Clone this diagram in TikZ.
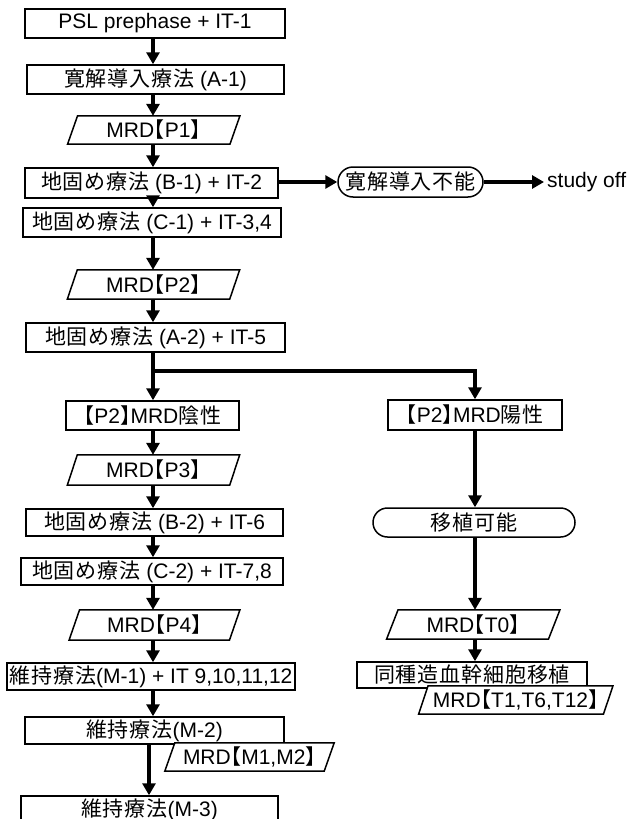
\documentclass[tikz,border=0pt]{standalone}
\usepackage{fontspec}
\setmainfont{Liberation Sans}
\newfontfamily\cjkf[LetterSpace=4]{Noto Sans CJK JP}
\newfontfamily\cjkh[RawFeature=+halt]{Noto Sans CJK JP}
\newcommand\J[1]{{\cjkf #1}}
\newcommand\LB{{\cjkh 【}}
\newcommand\RB{{\cjkh 】}}
\usetikzlibrary{arrows.meta}
\pgfdeclarelayer{back}
\pgfdeclarelayer{mid}
\pgfsetlayers{back,mid,main}
\newcommand\paral[2]{\begin{pgfonlayer}{mid}\draw[line width=1.5pt, fill=white] ([xshift=#2/2]#1.north west) -- ([xshift=#2/2]#1.north east) -- ([xshift=-#2/2]#1.south east) -- ([xshift=-#2/2]#1.south west) -- cycle;\end{pgfonlayer}}
\tikzset{
  txt/.style={inner sep=0pt, font=\fontsize{21}{25}\selectfont},
  box/.style={txt, draw, line width=1.5pt, fill=white},
  roundbox/.style={box, rounded corners=14.5pt},
  ptext/.style={txt},
  arr/.style={line width=3.5pt, -{Triangle[length=12pt,width=13pt]}}
}
\begin{document}
\begin{tikzpicture}[x=1pt,y=-1pt]
\useasboundingbox (0,0) rectangle (628,819);
\coordinate (colL) at (153,0);
\coordinate (colR) at (475,0);
% left column
\node[box, minimum width=260pt, minimum height=29pt] (psl) at (155,23.5) {PSL prephase + IT-1};
\node[box, minimum width=257pt, minimum height=29pt] (a1) at (155.5,79.5) {\J{寛解導入療法} (A-1)};
\node[ptext, minimum width=162pt, minimum height=28pt] (p1) at (153.75,130) {MRD\LB P1\RB};
\paral{p1}{10}
\node[box, minimum width=253pt, minimum height=30pt] (b1) at (151.5,183) {\J{地固め療法} (B-1) + IT-2};
\node[box, minimum width=258pt, minimum height=29pt] (c1) at (152,222.5) {\J{地固め療法} (C-1) + IT-3,4};
\node[ptext, minimum width=162pt, minimum height=29pt] (p2) at (153.5,284.5) {MRD\LB P2\RB};
\paral{p2}{10}
\node[box, minimum width=259pt, minimum height=29pt] (a2) at (155.5,337.5) {\J{地固め療法} (A-2) + IT-5};
\coordinate (br) at (153,371);
\node[box, minimum width=173pt, minimum height=29pt] (neg) at (152.5,415.5) {\LB P2\RB MRD\J{陰性}};
\node[ptext, minimum width=162pt, minimum height=30pt] (p3) at (153.5,470) {MRD\LB P3\RB};
\paral{p3}{10}
\node[box, minimum width=257pt, minimum height=27pt] (b2) at (154.5,522.5) {\J{地固め療法} (B-2) + IT-6};
\node[box, minimum width=262pt, minimum height=27pt] (c2) at (152,571.5) {\J{地固め療法} (C-2) + IT-7,8};
\node[ptext, minimum width=160pt, minimum height=30pt] (p4) at (154.5,625) {MRD\LB P4\RB};
\paral{p4}{10.5}
\node[box, minimum width=288pt, minimum height=27pt] (m1) at (151,676.5) {\J{維持療法}(M-1) + IT 9,10,11,12};
\begin{pgfonlayer}{back}
\node[box, minimum width=259pt, minimum height=27pt] (m2) at (154.5,730.5) {\J{維持療法}(M-2)};
\end{pgfonlayer}
\node[ptext, minimum width=159pt, minimum height=28pt] (mm) at (249.5,757) {MRD\LB M1,M2\RB};
\paral{mm}{10}
\node[box, minimum width=257pt, minimum height=27pt] (m3) at (149.5,809.5) {\J{維持療法}(M-3)};
% right column
\node[roundbox, minimum width=145pt, minimum height=30pt, rounded corners=15pt] (nog) at (410.5,182) {\J{寛解導入不能}};
\node[txt, anchor=west, inner xsep=3pt] (off) at (544,182) {study off};
\node[box, minimum width=174pt, minimum height=30pt] (pos) at (475,415) {\LB P2\RB MRD\J{陽性}};
\node[roundbox, minimum width=202pt, minimum height=29pt] (tx) at (474,522.5) {\J{移植可能}};
\node[ptext, minimum width=161.5pt, minimum height=29pt] (t0) at (473.25,624.5) {MRD\LB T0\RB};
\paral{t0}{11.5}
\begin{pgfonlayer}{back}
\node[box, minimum width=230pt, minimum height=26pt] (allo) at (472,675) {\J{同種造血幹細胞移植}};
\end{pgfonlayer}
\node[ptext, minimum width=184.5pt, minimum height=28pt] (t1) at (515.75,700) {MRD\LB T1,T6,T12\RB};
\paral{t1}{9.5}
% connectors
\draw[arr] (psl.south -| colL) -- (a1.north -| colL);
\draw[arr] (a1.south -| colL) -- (p1.north -| colL);
\draw[arr] (p1.south -| colL) -- (b1.north -| colL);
\draw[arr] (b1.south -| colL) -- (c1.north -| colL);
\draw[arr] (c1.south -| colL) -- (p2.north -| colL);
\draw[arr] (p2.south -| colL) -- (a2.north -| colL);
\draw[arr] (a2.south -| colL) -- (neg.north -| colL);
\draw[arr] (br) -| (pos.north);
\draw[arr] (neg.south -| colL) -- (p3.north -| colL);
\draw[arr] (p3.south -| colL) -- (b2.north -| colL);
\draw[arr] (b2.south -| colL) -- (c2.north -| colL);
\draw[arr] (c2.south -| colL) -- (p4.north -| colL);
\draw[arr] (p4.south -| colL) -- (m1.north -| colL);
\draw[arr] (m1.south -| colL) -- (m2.north -| colL);
\draw[arr] ([xshift=-4pt]m2.south -| colL) -- ([xshift=-4pt]m3.north -| colL);
\draw[arr] (nog.west -| b1.east) -- (nog.west);
\draw[arr] (nog.east) -- (off.west);
\draw[arr] (pos.south -| colR) -- (tx.north -| colR);
\draw[arr] (tx.south -| colR) -- (t0.north -| colR);
\draw[arr] (t0.south -| colR) -- (allo.north -| colR);
\end{tikzpicture}
\end{document}
